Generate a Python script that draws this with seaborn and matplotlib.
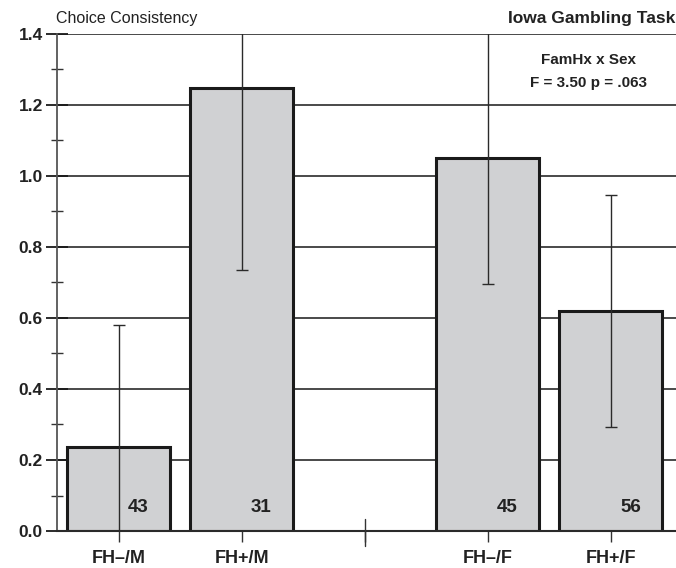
import matplotlib
matplotlib.use("Agg")
import matplotlib.pyplot as plt
import matplotlib.transforms as mtransforms
from matplotlib.ticker import MultipleLocator
import seaborn as sns
import pandas as pd

# Group means, standard errors and sample sizes
groups = ["FH\u2013/M", "FH+/M", "FH\u2013/F", "FH+/F"]
means = [0.237, 1.248, 1.051, 0.620]
sems = [0.343, 0.513, 0.356, 0.326]
n_sizes = [43, 31, 45, 56]
# Empty slot separating males from females
order = ["FH\u2013/M", "FH+/M", " ", "FH\u2013/F", "FH+/F"]
y_ticks = [0.0, 0.2, 0.4, 0.6, 0.8, 1.0, 1.2, 1.4]

sns.set_theme(style="white")
plt.rcParams["font.family"] = ["Liberation Sans", "DejaVu Sans"]

df = pd.DataFrame({"group": groups, "mean": means, "sem": sems, "n": n_sizes})

fig = plt.figure(figsize=(6.76, 5.68), dpi=100)
ax = fig.add_axes([0.0843, 0.0651, 0.9157, 0.8752])

ax.set_axisbelow(True)
ax.yaxis.grid(True, color="#3a3a3a", linewidth=1.3)
ax.xaxis.grid(False)

sns.barplot(data=df, x="group", y="mean", order=order, ax=ax,
            color="#d0d1d3", saturation=1, width=0.84,
            edgecolor="#1a1a1a", linewidth=2.2, errorbar=None, zorder=2)

# Bars come back in plotting order; recover their centres
centers = {}
for patch in ax.patches:
    if patch.get_height() > 0:
        centers[round(patch.get_height(), 3)] = patch.get_x() + patch.get_width() / 2
xpos = [centers[round(m, 3)] for m in means]

ax.errorbar(xpos, means, yerr=sems, fmt="none", ecolor="#2a2a2a",
            elinewidth=1.0, capsize=4.5, capthick=1.0, zorder=3)

for x, m, n in zip(xpos, means, n_sizes):
    ax.text(x + 0.16, 0.065, str(n), ha="center", va="center",
            fontsize=13.5, fontweight="bold", color="#222222", zorder=4)

ax.set_xlim(-0.5, 4.53)
ax.set_ylim(0, 1.4)
ax.set_yticks(y_ticks)
ax.set_yticklabels([f"{v:.1f}" for v in y_ticks], fontsize=12.5, fontweight="bold",
                   color="#222222")
ax.yaxis.set_minor_locator(MultipleLocator(0.1))
ax.tick_params(axis="y", which="major", direction="inout", length=16.5,
               width=1.3, color="#1a1a1a", pad=2, left=True)
ax.tick_params(axis="y", which="minor", direction="inout", length=8.5,
               width=1.0, color="#333333", left=True)
ax.tick_params(axis="x", which="major", direction="out", length=8,
               width=1.0, color="#333333", pad=6, bottom=True)
for lab in ax.get_xticklabels():
    lab.set_fontsize(13)
    lab.set_fontweight("bold")
    lab.set_color("#222222")
ax.set_xlabel("")
ax.set_ylabel("")

# Divider mark between the male and female groups crosses the baseline
mid = ax.get_xticks()[2]
trans = mtransforms.blended_transform_factory(ax.transData, ax.transAxes)
ax.plot([mid, mid], [-0.03, 0.024], transform=trans, color="#333333",
        linewidth=1.0, clip_on=False, zorder=5)

for side in ["top", "right"]:
    ax.spines[side].set_visible(False)
ax.spines["left"].set_color("#555555")
ax.spines["left"].set_linewidth(1.3)
ax.spines["bottom"].set_color("#2a2a2a")
ax.spines["bottom"].set_linewidth(1.5)

fig.text(56 / 676, 1 - 18 / 568, "Choice Consistency", ha="left", va="center",
         fontsize=11.5, color="#222222")
fig.text(675 / 676, 1 - 18 / 568, "Iowa Gambling Task", ha="right", va="center",
         fontsize=12.5, fontweight="bold", color="#222222")
ax.text(0.858, 0.948, "FamHx x Sex", transform=ax.transAxes, ha="center",
        va="center", fontsize=11, fontweight="bold", color="#222222")
ax.text(0.858, 0.901, "F = 3.50 p = .063", transform=ax.transAxes, ha="center",
        va="center", fontsize=11, fontweight="bold", color="#222222")

fig.savefig("out.png", dpi=100, facecolor="white")
